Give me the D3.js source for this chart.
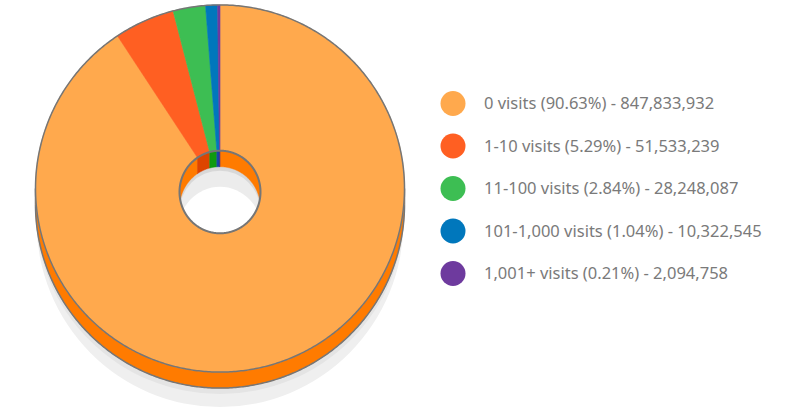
<!DOCTYPE html>
<html>
<head>
<meta charset="utf-8">
<script src="https://cdn.jsdelivr.net/npm/d3@7"></script>
<style>
  body { margin: 0; background: #fff; }
  svg { display: block; }
</style>
</head>
<body>
<svg width="798" height="412"></svg>
<script>
// visit buckets, clockwise from 12 o'clock
var labels = ['0 visits', '1-10 visits', '11-100 visits', '101-1,000 visits', '1,001+ visits'];
var percents = [90.63, 5.29, 2.84, 1.04, 0.21];
var counts = [847833932, 51533239, 28248087, 10322545, 2094758];

var topColors = ['#FFA94D', '#FF5F22', '#3DBE53', '#0077BC', '#6E3A9E'];
var sideColors = ['#FF7B00', '#DD4400', '#109A10', '#1846A8', '#4A2A80'];

var svg = d3.select('svg');

var cx = 220, cy = 188.5, R = 184.5, k = 0.995;
var hcy = 192, ri = 40.5, ki = 1.02;
var depth = 16;
var outline = '#767676';

var pie = d3.pie().sort(null).value(function(d) { return d; });
var arcs = pie(percents);

function outerPt(a, dz) {
  return [cx + R * Math.sin(a), cy - R * Math.cos(a) * k + dz];
}
function innerPt(a, dz) {
  return [cx + ri * Math.sin(a), hcy - ri * Math.cos(a) * ki + dz];
}
function sweep(f, a0, a1, dz) {
  var n = Math.max(2, Math.ceil(Math.abs(a1 - a0) / 0.01));
  var pts = [];
  for (var i = 0; i <= n; i++) pts.push(f(a0 + (a1 - a0) * i / n, dz));
  return pts;
}
var line = d3.line();

// shadow under the donut
svg.append('ellipse')
  .attr('cx', cx).attr('cy', cy + 33).attr('rx', R - 1).attr('ry', R + 1)
  .attr('fill', '#efefef');
svg.append('ellipse')
  .attr('cx', cx).attr('cy', cy + depth + 6).attr('rx', R).attr('ry', R * k)
  .attr('fill', '#e4e4e4');

// outer side wall (front half only)
var g = svg.append('g');
arcs.forEach(function(d, i) {
  var s = Math.max(d.startAngle, Math.PI / 2), e = Math.min(d.endAngle, Math.PI * 1.5);
  if (e <= s) return;
  var pts = sweep(outerPt, s, e, 0).concat(sweep(outerPt, e, s, depth));
  g.append('path').attr('d', line(pts) + 'Z')
    .attr('fill', sideColors[i]).attr('stroke', sideColors[i]).attr('stroke-width', 0.5);
});
// bottom rim line
g.append('path')
  .attr('d', line(sweep(outerPt, Math.PI / 2, Math.PI * 1.5, depth)))
  .attr('fill', 'none').attr('stroke', outline).attr('stroke-width', 1.5);
g.append('path')
  .attr('d', line([outerPt(Math.PI / 2, 0), outerPt(Math.PI / 2, depth)]))
  .attr('stroke', outline).attr('stroke-width', 1.5);
g.append('path')
  .attr('d', line([outerPt(Math.PI * 1.5, 0), outerPt(Math.PI * 1.5, depth)]))
  .attr('stroke', outline).attr('stroke-width', 1.5);

// top face
arcs.forEach(function(d, i) {
  var pts = sweep(outerPt, d.startAngle, d.endAngle, 0)
    .concat(sweep(innerPt, d.endAngle, d.startAngle, 0));
  svg.append('path').attr('d', line(pts) + 'Z')
    .attr('fill', topColors[i]).attr('stroke', topColors[i]).attr('stroke-width', 0.6);
});

// hole
var holePath = line(sweep(innerPt, 0, Math.PI * 2, 0)) + 'Z';
svg.append('clipPath').attr('id', 'hole').append('path').attr('d', holePath);
var hole = svg.append('g').attr('clip-path', 'url(#hole)');
hole.append('path').attr('d', holePath).attr('fill', '#d8d8d8');
hole.append('ellipse').attr('cx', cx).attr('cy', hcy + depth + 4).attr('rx', ri).attr('ry', ri * ki)
  .attr('fill', '#ececec');
hole.append('ellipse').attr('cx', cx).attr('cy', hcy + depth + 24).attr('rx', ri + 2).attr('ry', ri * ki + 4)
  .attr('fill', '#fff');
// inner wall, back half
arcs.forEach(function(d, i) {
  [[0, Math.PI / 2], [Math.PI * 1.5, Math.PI * 2]].forEach(function(rng) {
    var s = Math.max(d.startAngle, rng[0]), e = Math.min(d.endAngle, rng[1]);
    if (e <= s) return;
    var pts = sweep(innerPt, s, e, 0).concat(sweep(innerPt, e, s, depth));
    hole.append('path').attr('d', line(pts) + 'Z')
      .attr('fill', sideColors[i]).attr('stroke', sideColors[i]).attr('stroke-width', 0.5);
  });
});

// outlines
svg.append('path').attr('d', line(sweep(outerPt, 0, Math.PI * 2, 0)) + 'Z')
  .attr('fill', 'none').attr('stroke', outline).attr('stroke-width', 1.5);
svg.append('path').attr('d', holePath)
  .attr('fill', 'none').attr('stroke', outline).attr('stroke-width', 2);

// legend
var legend = svg.append('g').attr('transform', 'translate(453,103.5)');
var rows = legend.selectAll('g').data(labels).enter().append('g')
  .attr('transform', function(d, i) { return 'translate(0,' + (i * 42.5) + ')'; });
rows.append('circle').attr('r', 12.5).attr('fill', function(d, i) { return topColors[i]; });
rows.append('text')
  .attr('x', 31).attr('dy', '0.35em')
  .style('font-family', '"Noto Sans", sans-serif')
  .style('font-size', '16.5px')
  .style('fill', '#7a7a7a')
  .text(function(d, i) {
    return d + ' (' + d3.format('.2f')(percents[i]) + '%) - ' + d3.format(',')(counts[i]);
  });
</script>
</body>
</html>
